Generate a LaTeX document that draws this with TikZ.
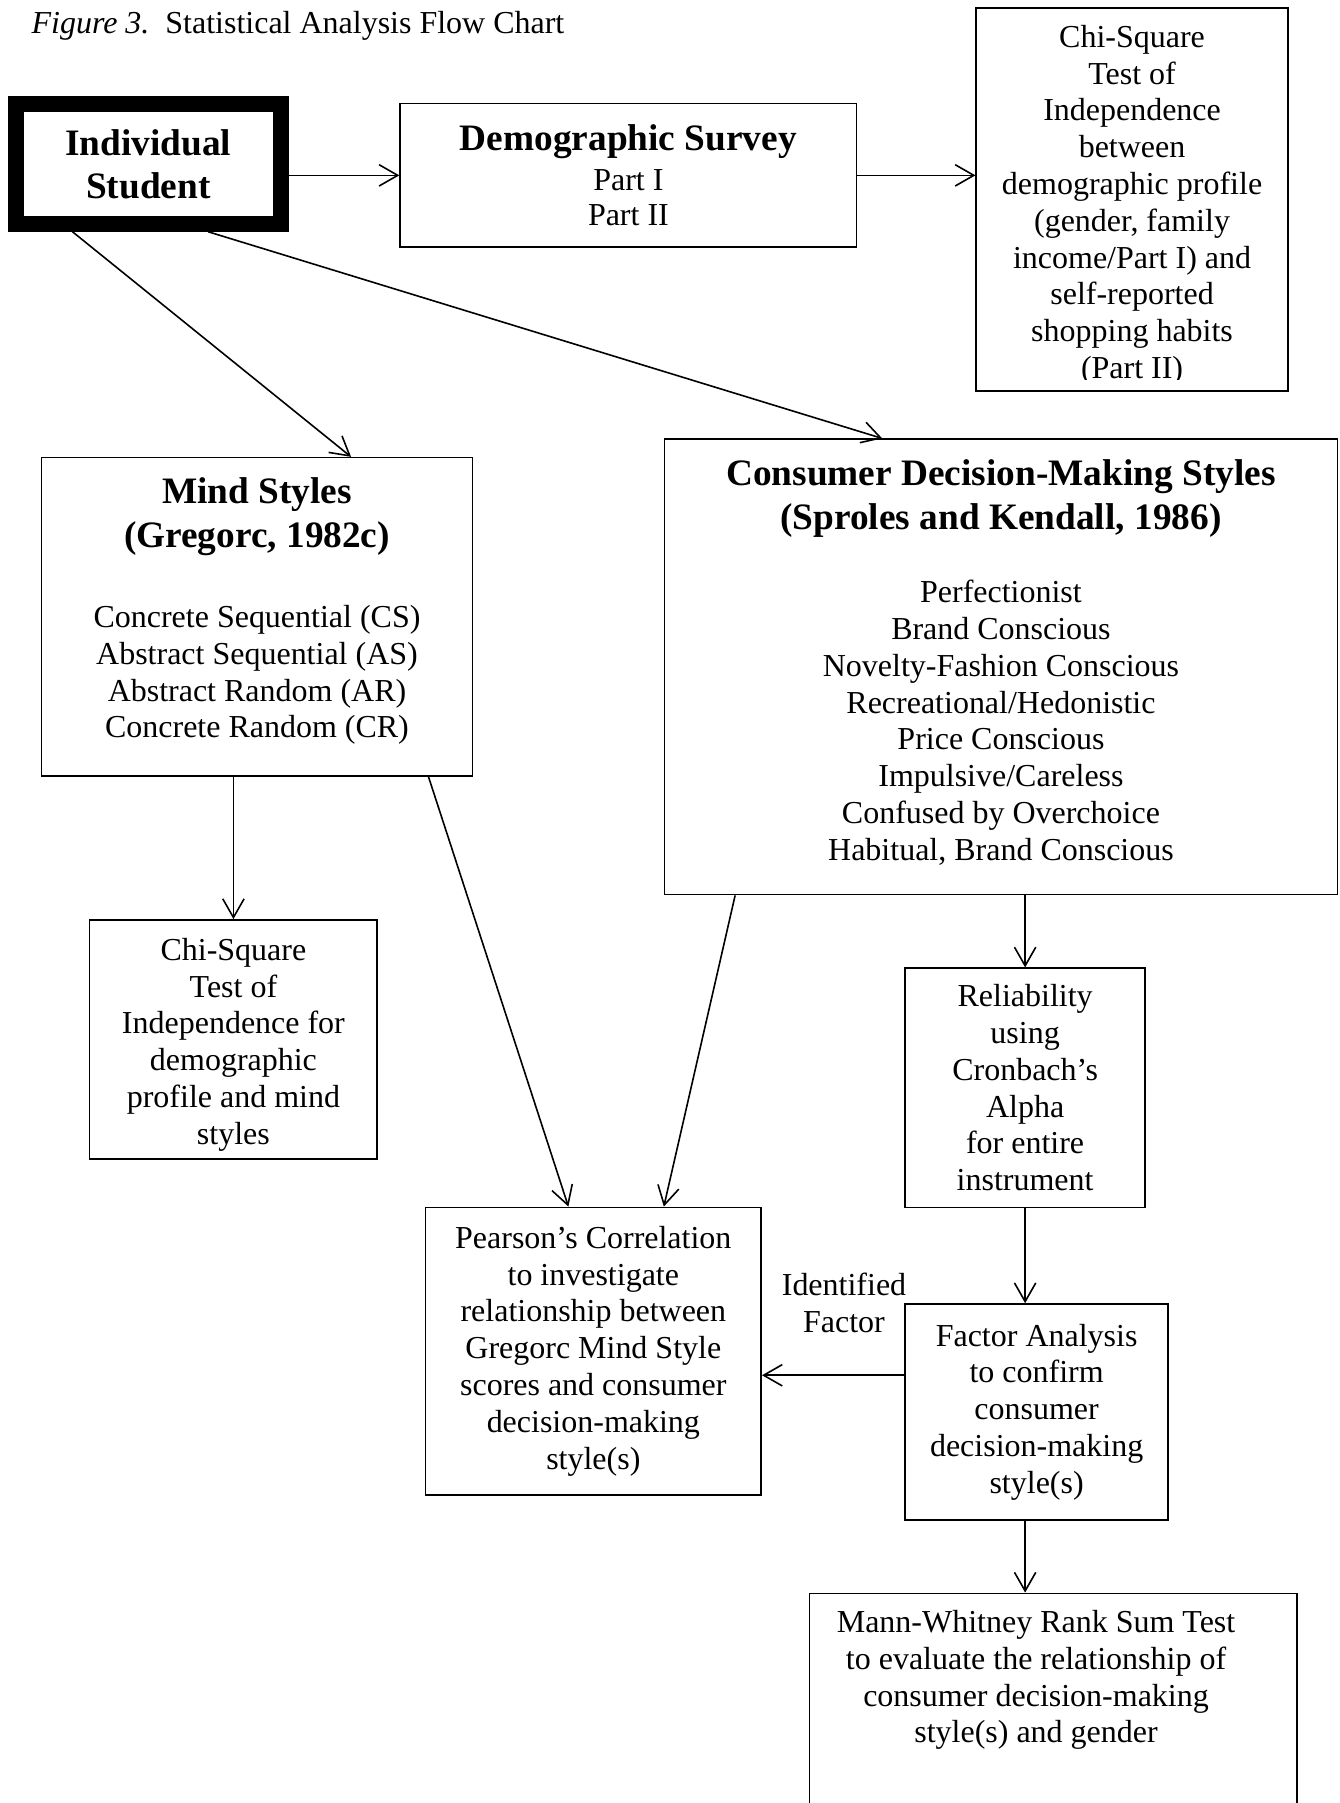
\documentclass[tikz,border=0pt]{standalone}
\usepackage{fontspec}
\setmainfont{Liberation Serif}
\usetikzlibrary{arrows.meta,calc,positioning}
\newdimen\dpx \dpx=0.4314pt
\newcommand\hd[1]{{\fontsize{14}{16.1}\selectfont\bfseries #1}}

\begin{document}
\begin{tikzpicture}[x=\dpx,y=-\dpx,
  box/.style={draw,line width=0.6pt,align=center,inner sep=0pt,font=\fontsize{12}{13.8}\selectfont},
  txt/.style={align=center,inner sep=0pt,font=\fontsize{12}{13.8}\selectfont},
  arr/.style={-{Straight Barb[length=7pt,width=8pt]},line width=0.6pt}]
\useasboundingbox (0,0) rectangle (1165,1568);
\node[txt,anchor=west] (title) at (27,22.5) {\textit{Figure 3.}\ \ Statistical Analysis Flow Chart};
\node[box,line width=6pt,minimum width=230\dpx,minimum height=104\dpx] (student) at (129,142.6) {\hd{Individual}\\[2.3pt]\hd{Student}};
\node[box,minimum width=397\dpx,minimum height=125\dpx] (demo) at (546.5,152.5) {\hd{Demographic Survey}\\[1pt]Part I\\[-0.4pt]Part II};
\node[box,minimum width=271\dpx,minimum height=333\dpx] (chi1) at (984.5,173.5) {};
\begin{scope}
\clip ($(chi1.north west)+(0,2)$) rectangle ($(chi1.south east)+(0,-11)$);
\node[txt] (chi1text) at ($(chi1.center)+(0,5)$) {Chi-Square\\Test of\\Independence\\between\\demographic profile\\(gender, family\\income/Part I) and\\self-reported\\shopping habits\\(Part II)};
\end{scope}
\node[box,minimum width=375\dpx,minimum height=277\dpx] (mind) at (223.5,536.5) {};
\node[txt] (mindtext) at ($(mind.center)+(0,-5)$) {\hd{Mind Styles}\\[2.6pt]\hd{(Gregorc, 1982c)}\\[16.4pt]Concrete Sequential (CS)\\Abstract Sequential (AS)\\Abstract Random (AR)\\Concrete Random (CR)};
\node[box,minimum width=585\dpx,minimum height=396\dpx] (cdms) at (870.5,580) {};
\node[txt] (cdmstext) at ($(cdms.center)+(0,-4)$) {\hd{Consumer Decision-Making Styles}\\[2.6pt]\hd{(Sproles and Kendall, 1986)}\\[13.8pt]Perfectionist\\Brand Conscious\\Novelty-Fashion Conscious\\Recreational/Hedonistic\\Price Conscious\\Impulsive/Careless\\Confused by Overchoice\\Habitual, Brand Conscious};
\node[box,minimum width=250\dpx,minimum height=208\dpx] (chi2) at (203,904) {};
\node[txt] (chi2text) at ($(chi2.center)+(0,4.5)$) {Chi-Square\\Test of\\Independence for\\demographic\\profile and mind\\styles};
\node[box,minimum width=292\dpx,minimum height=250\dpx] (pearson) at (516,1175) {Pearson’s Correlation\\to investigate\\relationship between\\Gregorc Mind Style\\scores and consumer\\decision-making\\style(s)};
\node[box,minimum width=209\dpx,minimum height=208\dpx] (rel) at (891.5,946) {Reliability\\using\\Cronbach’s\\Alpha\\for entire\\instrument};
\node[box,minimum width=229\dpx,minimum height=188\dpx] (factor) at (901.5,1228) {Factor Analysis\\to confirm\\consumer\\decision-making\\style(s)};
\node[box,anchor=north,minimum width=424\dpx,minimum height=300\dpx] (mw) at (916,1385) {};
\node[txt,anchor=north] (mwtext) at ($(mw.north)+(-15,15)$) {Mann-Whitney Rank Sum Test\\to evaluate the relationship of\\consumer decision-making\\style(s) and gender};
\node[txt] (idf) at (734,1133) {Identified\\Factor};
\coordinate (fi) at ($(factor.west)+(0,-32)$);
\draw[arr] (student.east |- demo.west) -- (demo.west);
\draw[arr] (demo.east) -- (chi1.west |- demo.east);
\draw[arr] ($(student.south west)+(56,0)$) -- ($(mind.north west)+(270,0)$);
\draw[arr] ($(student.south west)+(174,0)$) -- ($(cdms.north west)+(190,0)$);
\draw[arr] (mind.south -| chi2.north) -- (chi2.north);
\draw[arr] ($(mind.south east)+(-39,0)$) -- ($(pearson.north west)+(125,0)$);
\draw[arr] ($(cdms.south west)+(62,0)$) -- ($(pearson.north west)+(208,0)$);
\draw[arr] (cdms.south -| rel.north) -- (rel.north);
\draw[arr] (rel.south) -- (rel.south |- factor.north);
\draw[arr] (fi) -- (fi -| pearson.east);
\draw[arr] (factor.south -| rel.south) -- (mw.north -| rel.south);
\end{tikzpicture}
\end{document}
